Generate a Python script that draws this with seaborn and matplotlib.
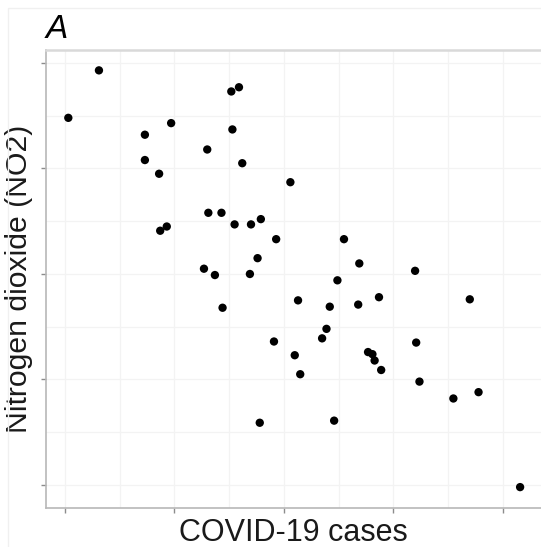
import seaborn as sns
import matplotlib.pyplot as plt
import matplotlib.ticker as mticker
import pandas as pd
from matplotlib.patches import Rectangle

sns.set_style('white')
plt.rcParams['font.family'] = ['Liberation Sans', 'DejaVu Sans']

# readings (arbitrary units, axes have no labels)
covid_cases = [0.03, 0.31, 0.73, 0.73, 0.97, 0.86, 0.87, 0.93, 1.30, 1.52,
               1.59, 1.53, 1.62, 1.31, 1.43, 1.55, 1.70, 1.79, 2.06, 1.93,
               1.27, 1.37, 1.69, 1.76, 1.44, 1.78, 2.55, 2.69, 3.20, 2.49,
               2.13, 2.42, 2.68, 2.87, 3.70, 1.91, 2.35, 2.39, 3.21, 2.10,
               2.15, 2.77, 2.81, 2.83, 2.89, 3.24, 3.55, 3.78, 2.46, 4.16]
no2 = [3.48, 3.93, 3.32, 3.08, 3.43, 2.95, 2.41, 2.45, 3.18, 3.73,
       3.77, 3.37, 3.05, 2.58, 2.58, 2.47, 2.47, 2.52, 2.87, 2.33,
       2.05, 1.99, 2.00, 2.15, 1.68, 0.59, 2.33, 2.10, 2.03, 1.94,
       1.75, 1.69, 1.71, 1.78, 1.76, 1.36, 1.39, 1.48, 1.35, 1.23,
       1.05, 1.26, 1.24, 1.18, 1.09, 0.98, 0.82, 0.88, 0.61, -0.02]
major_ticks = [0, 1, 2, 3, 4]

df = pd.DataFrame({'cases': covid_cases, 'no2': no2})

fig = plt.figure(figsize=(5.41, 5.47), dpi=100)
ax = fig.add_axes([46 / 541, 39 / 547, 1 - 46 / 541, 458 / 547])

sns.scatterplot(data=df, x='cases', y='no2', color='black', s=36,
                edgecolor='none', ax=ax, zorder=3)

ax.set_xlim(-0.174, 4.351)
ax.set_ylim(-0.218, 4.123)
ax.set_xticks(major_ticks)
ax.set_yticks(major_ticks)
ax.xaxis.set_minor_locator(mticker.MultipleLocator(0.5))
ax.yaxis.set_minor_locator(mticker.MultipleLocator(0.5))
ax.set_xticklabels([])
ax.set_yticklabels([])
ax.tick_params(which='major', length=3.5, width=1, color='#8c8c8c',
               direction='out', bottom=True, left=True)
ax.tick_params(which='minor', length=0)
ax.grid(True, which='both', color='#f3f3f3', linewidth=0.9, zorder=0)
ax.set_axisbelow(True)

for side in ['left', 'bottom']:
    ax.spines[side].set_color('#b8b8b8')
    ax.spines[side].set_linewidth(1.2)
ax.spines['top'].set_color('#d9d9d9')
ax.spines['top'].set_linewidth(1.8)
ax.spines['right'].set_visible(False)

ax.set_xlabel('COVID-19 cases', fontsize=22, color='#1a1a1a', labelpad=0)
ax.set_ylabel('Nitrogen dioxide (NO2)', fontsize=21.7, color='#1a1a1a', labelpad=2)

fig.text(46 / 541, 1 - 38 / 547, 'A', fontsize=24, style='italic',
         ha='left', va='baseline', color='black')

fig.patches.append(Rectangle((8 / 541, -0.1), 1.2, 1.1 - 8 / 547,
                             transform=fig.transFigure, fill=False,
                             edgecolor='#f0f0f0', linewidth=1))

fig.savefig('out.png', dpi=100)
